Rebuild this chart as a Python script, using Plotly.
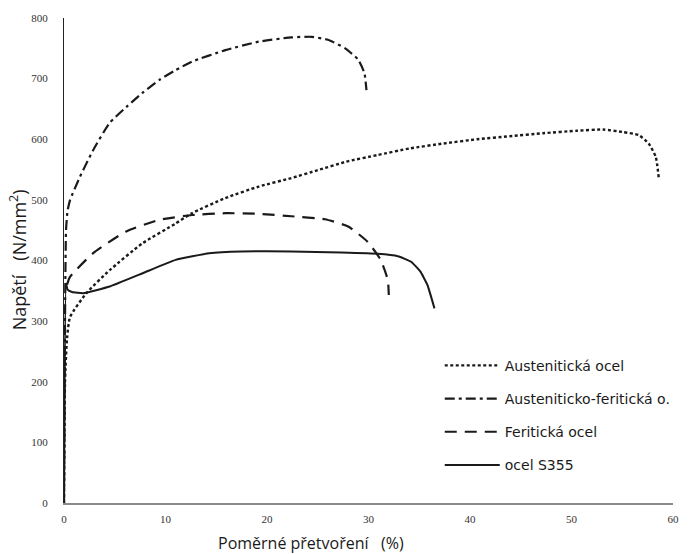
import plotly.graph_objects as go

# Data (strain %, stress N/mm2)
aust_x = [0, 0.1, 0.3, 0.6, 2.2, 4.5, 7.7, 11.0, 12.6, 15.9, 19.2, 22.4, 25.0, 27.8, 30.9, 34.1, 37.4, 40.7, 43.9, 47.2, 50.5, 53.1, 55.0, 56.6, 57.6, 58.3, 58.6]
aust_y = [0, 200, 272, 307, 346, 384, 428, 461, 478, 503, 522, 536, 549, 563, 574, 585, 593, 600, 605, 610, 614, 616, 612, 607, 593, 571, 536]

duplex_x = [0, 0.1, 0.2, 0.35, 0.6, 1.57, 2.87, 4.5, 6.13, 7.7, 9.4, 11.0, 12.6, 15.9, 19.2, 22.4, 24.4, 26.0, 27.7, 29.0, 29.6, 29.8]
duplex_y = [0, 300, 450, 482, 500, 538, 582, 627, 653, 676, 698, 714, 728, 747, 761, 768, 769, 764, 750, 731, 709, 681]

ferr_x = [0.3, 0.59, 2.87, 6.13, 9.4, 12.6, 15.9, 19.2, 22.4, 25.7, 28.0, 29.9, 31.2, 31.9, 32.0]
ferr_y = [360, 373, 412, 448, 467, 475, 478, 477, 473, 468, 456, 431, 401, 368, 343]

s355_x = [0, 0.2, 0.35, 0.8, 1.9, 4.5, 7.75, 11.0, 14.3, 17.5, 22.4, 27.3, 30.9, 32.9, 34.2, 35.1, 35.8, 36.5]
s355_y = [0, 362, 352, 348, 346, 357, 379, 401, 412, 415, 415, 413, 411, 407, 398, 382, 360, 321]

names = ["Austenitická ocel", "Austeniticko-feritická o.", "Feritická ocel", "ocel S355"]
x_ticks = [0, 10, 20, 30, 40, 50, 60]
y_ticks = [0, 100, 200, 300, 400, 500, 600, 700, 800]

fig = go.Figure()
series = [
    (aust_x, aust_y, names[0], "3px,2.5px", 2.4, 0.5),
    (duplex_x, duplex_y, names[1], "10px,4px,3px,4px", 2.2, 0.5),
    (ferr_x, ferr_y, names[2], "12px,8px", 2.2, 0.5),
    (s355_x, s355_y, names[3], "solid", 2.0, 0.35),
]
for i, (xs, ys, nm, dash, w, sm) in enumerate(series):
    fig.add_trace(go.Scatter(
        x=xs, y=ys, name=nm, mode="lines",
        line=dict(color="#1a1a1a", width=w, dash=dash, shape="spline", smoothing=sm),
        legendgroup=f"g{i}",
    ))

fig.update_layout(
    width=691, height=554,
    margin=dict(l=64, r=14, t=18, b=51),
    paper_bgcolor="white", plot_bgcolor="white",
    showlegend=True,
    legend=dict(
        x=0.617, y=0.316, xanchor="left", yanchor="top",
        font=dict(family="DejaVu Sans", size=14, color="#1a1a1a"),
        itemwidth=55, tracegroupgap=12, bgcolor="rgba(0,0,0,0)",
    ),
    xaxis=dict(
        range=[0, 60], tickvals=x_ticks, showgrid=False, zeroline=False,
        showline=True, linecolor="#8a8a8a", linewidth=1.5,
        ticks="", ticklabelstandoff=5,
        tickfont=dict(family="Liberation Sans Narrow", size=11, color="#333"),
        fixedrange=True,
    ),
    yaxis=dict(
        range=[0, 800], tickvals=y_ticks, showgrid=False, zeroline=False,
        showline=True, linecolor="#222", linewidth=1,
        ticks="", ticklabelstandoff=13,
        tickfont=dict(family="Liberation Sans Narrow", size=11, color="#333"),
        fixedrange=True,
    ),
    annotations=[
        dict(text="Poměrné přetvoření   (%)", xref="paper", yref="paper",
             x=(313 - 64) / 613, y=-0.0825, xanchor="center", yanchor="middle",
             showarrow=False, font=dict(family="Open Sans", size=16, color="#1a1a1a")),
        dict(text="Napětí   (N/mm<sup>2</sup>)", xref="paper", yref="paper",
             x=-0.075, y=0.501, xanchor="center", yanchor="middle", textangle=-90,
             showarrow=False, font=dict(family="Open Sans", size=18, color="#1a1a1a")),
    ],
)

fig.write_html("out.html", config={"displayModeBar": False},
               post_script="document.body.style.margin='0';")
